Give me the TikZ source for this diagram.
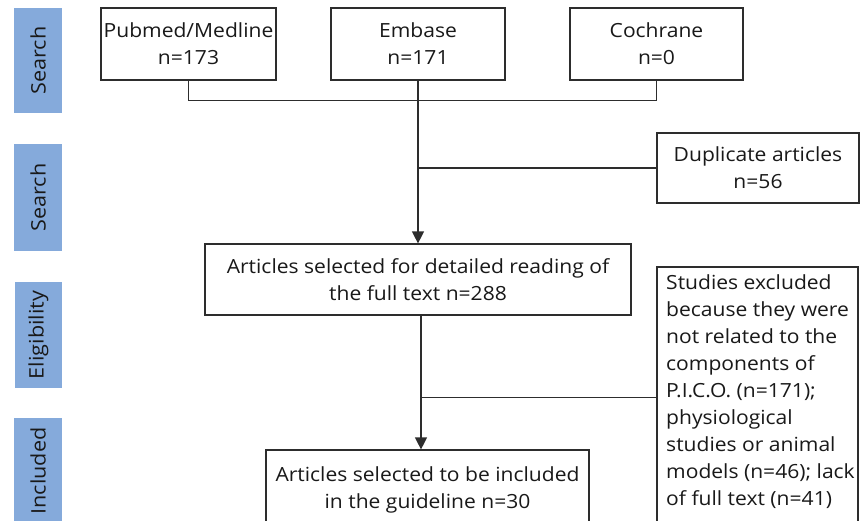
\documentclass[tikz,border=0pt]{standalone}
\usepackage{fontspec}
\setmainfont[FakeStretch=1.08]{Open Sans}
\usetikzlibrary{arrows.meta}
\definecolor{sidebl}{RGB}{133,170,219}
\definecolor{linec}{RGB}{45,45,45}
\tikzset{
  box/.style={draw=linec, line width=1.2pt, align=center, inner sep=0pt,
    font=\fontsize{19.5}{27}\selectfont, text=black!90},
  side/.style={fill=sidebl, rotate=90, inner sep=0pt, anchor=center,
    font=\fontsize{20}{23}\selectfont, text=black!90},
  conn/.style={draw=linec, line width=1.2pt},
  arr/.style={conn, -{Triangle[length=12pt,width=12pt]}},
}
\begin{document}
\begin{tikzpicture}[x=1pt,y=-1pt]
\clip (0,0) rectangle (867,520);
\fill[white] (0,0) rectangle (867,520);
% side labels
\node[side, minimum width=105pt, minimum height=48pt] (s1) at (38,60.5) {Search};
\node[side, minimum width=107pt, minimum height=48pt] (s2) at (38,197.5) {Search};
\node[side, minimum width=106pt, minimum height=47pt] (s3) at (38.5,335) {Eligibility};
\node[side, minimum width=106pt, minimum height=48pt] (s4) at (38,471) {Included};
% boxes
\node[box, minimum width=175pt, minimum height=72pt] (pub) at (188.5,44) {Pubmed/Medline\\n=173};
\node[box, minimum width=174pt, minimum height=72pt] (emb) at (418,44) {Embase\\n=171};
\node[box, minimum width=173pt, minimum height=72pt] (coch) at (656.5,44) {Cochrane\\n=0};
\node[box, minimum width=202pt, minimum height=70pt] (dup) at (758,168) {Duplicate articles\\n=56};
\node[box, minimum width=426pt, minimum height=71pt] (arts) at (418,279.5) {Articles selected for detailed reading of\\the full text n=288};
\node[box, minimum width=323pt, minimum height=80pt] (incl) at (427.5,490) {Articles selected to be included\\in the guideline n=30};
\node[align=left, anchor=north west, inner xsep=9pt, inner ysep=7pt,
  font=\fontsize{19.5}{27}\selectfont, text=black!90] (excl) at (657,267)
  {Studies excluded\\because they were\\not related to the\\components of\\P.I.C.O. (n=171);\\physiological\\studies or animal\\models (n=46); lack\\of full text (n=41)};
\draw[conn] (excl.north west) rectangle ([xshift=201pt,yshift=-300pt]excl.north west);
% connectors
\draw[conn] (pub.south) -- ++(0,20) coordinate (j0) -| (coch.south);
\draw[arr] (emb.south) -- (arts.north);
\draw[conn] (emb.south |- dup.west) -- (dup.west);
\draw[arr] ([xshift=3pt]arts.south) -- ([xshift=3pt]arts.south |- incl.north);
\coordinate (j2) at ([xshift=3pt,yshift=-82pt]arts.south);
\draw[conn] (j2) -- (j2 -| excl.west);
\end{tikzpicture}
\end{document}
